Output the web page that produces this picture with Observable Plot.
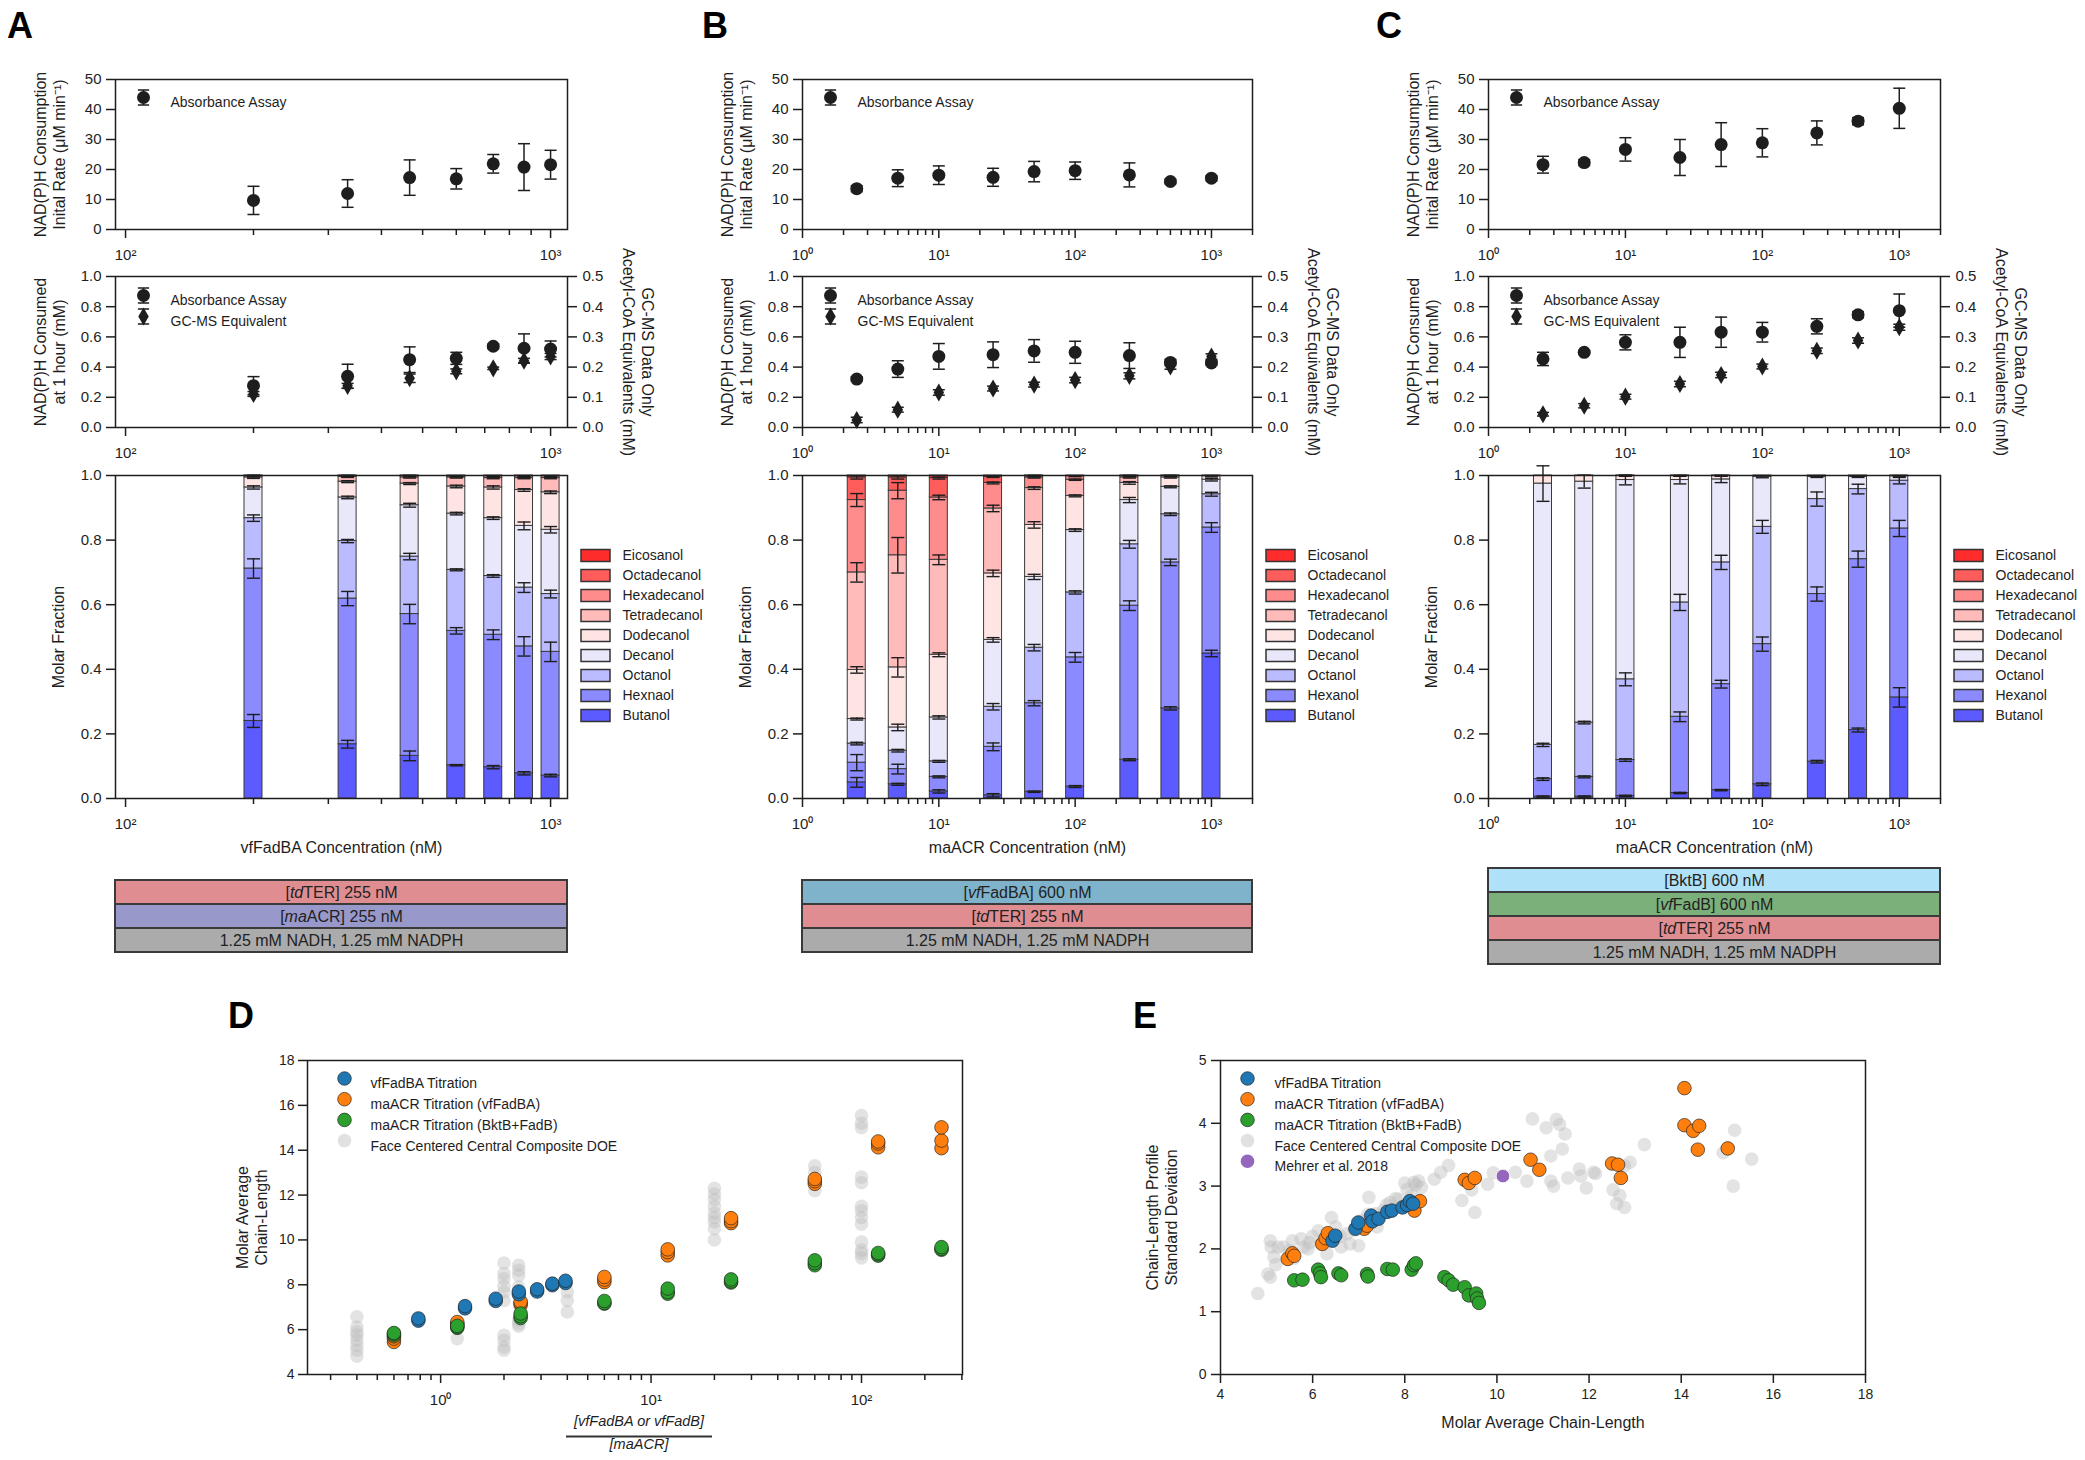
<!DOCTYPE html>
<html><head><meta charset="utf-8">
<script src="https://cdn.jsdelivr.net/npm/d3@7"></script>
<script src="https://cdn.jsdelivr.net/npm/@observablehq/plot@0.6"></script>
<style>
body{margin:0;background:#fff;font-family:"Liberation Sans",Arial,Helvetica,sans-serif;}
#fig{position:relative;width:2085px;height:1460px;overflow:hidden;background:#fff;}
#fig svg{position:absolute;overflow:visible;max-width:none;}
.plbl{position:absolute;font-weight:bold;font-size:36px;line-height:36px;color:#000;}
</style></head><body><div id="fig"></div>
<script>
// ================= DATA =================
const speciesNames = ["Butanol","Hexanol","Octanol","Decanol","Dodecanol","Tetradecanol","Hexadecanol","Octadecanol","Eicosanol"];
const speciesColors = ["#5b5bff","#8b8bff","#bbbbff","#e8e8fa","#ffe4e4","#ffbaba","#ff8c8c","#ff5c5c","#ff2c2c"];
const legendLabelsA = ["Butanol","Hexnaol","Octanol","Decanol","Dodecanol","Tetradecanol","Hexadecanol","Octadecanol","Eicosanol"];
const legendLabelsBC = ["Butanol","Hexanol","Octanol","Decanol","Dodecanol","Tetradecanol","Hexadecanol","Octadecanol","Eicosanol"];

const concA = [200, 333, 466, 600, 733, 866, 1000];
const concBC = [2.5, 5, 10, 25, 50, 100, 250, 500, 1000];

// initial rate (uM/min)
const rateA = [9.7, 12.0, 17.3, 16.9, 21.9, 20.8, 21.6];
const rateErrA = [4.7, 4.6, 5.9, 3.4, 3.1, 7.8, 4.8];
const rateB = [13.6, 17.1, 18.1, 17.4, 19.3, 19.6, 18.2, 16.0, 17.1];
const rateErrB = [1.0, 2.8, 3.1, 3.0, 3.4, 2.9, 4.0, 0.7, 0.8];
const rateC = [21.6, 22.3, 26.7, 24.0, 28.3, 28.9, 32.2, 36.1, 40.4];
const rateErrC = [2.8, 1.0, 3.9, 6.0, 7.3, 4.7, 4.0, 1.2, 6.7];

// NAD(P)H consumed at 1 h (mM) and GC-MS acetyl-CoA equivalents (mM, right axis)
const consA = [0.277, 0.339, 0.449, 0.458, 0.538, 0.525, 0.520];
const consErrA = [0.060, 0.080, 0.085, 0.040, 0.015, 0.095, 0.053];
const gcA = [0.111, 0.138, 0.163, 0.186, 0.196, 0.221, 0.235];
const gcErrA = [0.008, 0.008, 0.014, 0.008, 0.004, 0.008, 0.010];
const consB = [0.321, 0.387, 0.471, 0.482, 0.507, 0.498, 0.476, 0.431, 0.427];
const consErrB = [0.015, 0.055, 0.085, 0.085, 0.075, 0.073, 0.085, 0.020, 0.015];
const gcB = [0.025, 0.059, 0.116, 0.129, 0.142, 0.157, 0.171, 0.202, 0.235];
const gcErrB = [0.009, 0.008, 0.009, 0.008, 0.008, 0.009, 0.010, 0.009, 0.009];
const consC = [0.454, 0.498, 0.564, 0.564, 0.631, 0.631, 0.670, 0.746, 0.774];
const consErrC = [0.044, 0.010, 0.050, 0.100, 0.100, 0.065, 0.050, 0.020, 0.110];
const gcC = [0.044, 0.072, 0.102, 0.144, 0.174, 0.202, 0.254, 0.288, 0.332];
const gcErrC = [0.006, 0.007, 0.008, 0.009, 0.009, 0.008, 0.009, 0.009, 0.010];

// cumulative molar fraction tops (Butanol .. Octadecanol); Eicosanol fills to 1
const topsA = [
  [0.240,0.712,0.868,0.963,0.994,0.998,0.999,1.000],
  [0.168,0.619,0.797,0.932,0.981,0.996,0.999,1.000],
  [0.132,0.571,0.749,0.908,0.975,0.994,0.999,1.000],
  [0.103,0.519,0.708,0.882,0.966,0.994,0.998,1.000],
  [0.097,0.507,0.689,0.868,0.963,0.992,0.998,1.000],
  [0.078,0.471,0.653,0.844,0.955,0.992,0.998,1.000],
  [0.071,0.454,0.633,0.832,0.948,0.992,0.998,1.000]];
const errsA = [
  [0.020,0.030,0.010,0.005,0.003,0.002,0.001,0],
  [0.012,0.022,0.005,0.004,0.003,0.002,0.001,0],
  [0.015,0.030,0.010,0.006,0.003,0.002,0.001,0],
  [0.002,0.010,0.003,0.004,0.004,0.002,0.001,0],
  [0.005,0.015,0.004,0.004,0.005,0.002,0.001,0],
  [0.005,0.030,0.015,0.012,0.004,0.002,0.001,0],
  [0.004,0.030,0.012,0.010,0.004,0.002,0.001,0]];
const topsB = [
  [0.050,0.111,0.170,0.246,0.398,0.700,0.924,0.994],
  [0.044,0.091,0.148,0.220,0.406,0.753,0.953,0.994],
  [0.022,0.067,0.115,0.251,0.445,0.739,0.932,0.992],
  [0.010,0.160,0.284,0.491,0.697,0.898,0.977,0.996],
  [0.021,0.295,0.467,0.686,0.847,0.961,0.994,0.999],
  [0.037,0.437,0.638,0.831,0.937,0.987,0.998,1.000],
  [0.120,0.597,0.787,0.924,0.977,0.994,0.999,1.000],
  [0.279,0.731,0.880,0.965,0.994,0.999,1.000,1.000],
  [0.449,0.839,0.942,0.987,0.998,1.000,1.000,1.000]];
const errsB = [
  [0.015,0.025,0.004,0.003,0.010,0.030,0.020,0.005],
  [0.003,0.015,0.004,0.010,0.030,0.055,0.025,0.005],
  [0.005,0.003,0.003,0.005,0.006,0.015,0.007,0.003],
  [0.005,0.012,0.010,0.007,0.010,0.010,0.003,0.002],
  [0.002,0.008,0.010,0.008,0.010,0.004,0.002,0.001],
  [0.003,0.015,0.005,0.004,0.003,0.002,0.001,0],
  [0.003,0.015,0.012,0.008,0.004,0.002,0.001,0],
  [0.005,0.010,0.004,0.003,0.002,0.001,0,0],
  [0.010,0.015,0.006,0.004,0.002,0,0,0]];
const topsC = [
  [0.006,0.060,0.166,0.975,1.000,1.000,1.000,1.000],
  [0.006,0.067,0.235,0.981,1.000,1.000,1.000,1.000],
  [0.008,0.119,0.369,0.986,0.999,1.000,1.000,1.000],
  [0.017,0.253,0.607,0.986,0.999,1.000,1.000,1.000],
  [0.026,0.354,0.731,0.988,0.999,1.000,1.000,1.000],
  [0.044,0.478,0.841,0.996,1.000,1.000,1.000,1.000],
  [0.114,0.633,0.927,0.996,1.000,1.000,1.000,1.000],
  [0.212,0.741,0.958,0.996,1.000,1.000,1.000,1.000],
  [0.313,0.836,0.984,0.998,1.000,1.000,1.000,1.000]];
const errsC = [
  [0.002,0.004,0.005,0.055,0,0,0,0],
  [0.002,0.003,0.004,0.020,0,0,0,0],
  [0.002,0.004,0.020,0.015,0,0,0,0],
  [0.002,0.015,0.025,0.012,0,0,0,0],
  [0.002,0.012,0.022,0.010,0,0,0,0],
  [0.004,0.022,0.020,0.003,0,0,0,0],
  [0.004,0.022,0.022,0.002,0,0,0,0],
  [0.006,0.025,0.015,0.002,0,0,0,0],
  [0.030,0.025,0.010,0.002,0,0,0,0]];

// condition boxes
const boxesA = [{label:"[tdTER] 255 nM", color:"#e08d91"},{label:"[maACR] 255 nM", color:"#9898ca"},{label:"1.25 mM NADH, 1.25 mM NADPH", color:"#ababab"}];
const boxesB = [{label:"[vfFadBA] 600 nM", color:"#7fb3cb"},{label:"[tdTER] 255 nM", color:"#e08d91"},{label:"1.25 mM NADH, 1.25 mM NADPH", color:"#ababab"}];
const boxesC = [{label:"[BktB] 600 nM", color:"#afe1f8"},{label:"[vfFadB] 600 nM", color:"#7cb07b"},{label:"[tdTER] 255 nM", color:"#e08d91"},{label:"1.25 mM NADH, 1.25 mM NADPH", color:"#ababab"}];

// Panel D: ratio vs molar average chain length
const dBlueX = [0.784,0.784,1.306,1.306,1.827,1.827,2.353,2.353,2.875,2.875,3.396,3.396,3.922,3.922];
const dBlueY = [6.40,6.50,6.95,7.05,7.28,7.38,7.58,7.70,7.70,7.80,7.98,8.05,8.08,8.18];
const dTitrX = [0.6,1.2,2.4,6,12,24,60,120,240];
const dOrangeY = [[5.45,5.6,5.7],[6.2,6.27,6.34],[7.1,7.18,7.25],[8.12,8.23,8.35],[9.31,9.46,9.58],[10.75,10.84,10.97],[12.5,12.62,12.72],[14.13,14.3,14.39],[14.09,14.43,15.02]];
const dGreenY = [[5.75,5.82,5.85],[6.08,6.12,6.17],[6.52,6.6,6.72],[7.16,7.19,7.28],[7.6,7.68,7.83],[8.1,8.15,8.24],[8.87,8.97,9.09],[9.3,9.36,9.42],[9.56,9.6,9.68]];
const dGreyX = [0.4,1.2,2.0,2.35,4.0,20,60,100];
const dGreyY = [[4.82,5.08,5.3,5.53,5.75,5.9,6.12,6.57],[5.6,6.25],[5.08,5.23,5.53,5.75,7.3,7.68,7.93,8.27,8.5,8.97],[6.15,6.27,6.42,7.9,8.42,8.65,8.87],[6.79,7.3,7.68],[10.0,10.5,10.8,11.0,11.2,11.5,11.8,12.05,12.3],[12.2,12.6,13.0,13.3],[9.2,9.4,9.55,9.9,10.7,11.0,11.3,11.5,12.55,12.8,15.0,15.2,15.55]];

// Panel E: chain length vs standard deviation
const eBlueX = [6.43,6.49,6.93,6.99,7.27,7.30,7.43,7.62,7.72,7.95,8.05,8.11,8.18];
const eBlueY = [2.13,2.21,2.32,2.42,2.53,2.44,2.48,2.59,2.61,2.66,2.70,2.76,2.72];
const eOrangeX = [5.46,5.56,5.60,6.21,6.28,6.33,7.12,7.18,8.21,8.33,9.30,9.39,9.52,10.73,10.92,12.50,12.63,12.69,14.07,14.07,14.26,14.39,14.36,15.01];
const eOrangeY = [1.84,1.93,1.89,2.08,2.17,2.25,2.32,2.37,2.61,2.76,3.10,3.05,3.13,3.42,3.26,3.36,3.34,3.13,4.56,3.97,3.88,3.96,3.58,3.60];
const eGreenX = [5.60,5.78,6.12,6.16,6.18,6.56,6.62,7.18,7.20,7.62,7.74,8.15,8.20,8.24,8.86,8.95,9.05,9.30,9.39,9.55,9.57,9.61];
const eGreenY = [1.50,1.51,1.67,1.61,1.55,1.61,1.58,1.60,1.56,1.68,1.67,1.67,1.74,1.77,1.55,1.50,1.43,1.39,1.26,1.29,1.21,1.14];
const ePurpleX = [10.13];
const ePurpleY = [3.16];
const eGreyX = [4.81,5.03,5.08,5.1,5.08,5.16,5.25,5.37,5.5,5.56,5.75,5.81,5.93,6.12,6.18,6.31,6.41,6.62,6.74,6.81,7.05,7.22,7.37,7.53,7.68,7.87,8.0,8.24,8.3,8.36,8.64,8.78,8.95,9.24,9.45,9.52,9.8,9.92,10.4,10.65,10.77,11.07,11.17,11.17,11.23,11.29,11.36,11.42,11.48,11.54,11.79,11.82,11.94,12.1,12.14,12.52,12.6,12.67,12.77,12.77,12.89,13.2,14.91,15.13,15.16,15.53,
  5.2,5.6,5.9,6.0,6.3,6.5,6.6,6.9,7.0,7.2,7.4,7.6,7.8,8.05,8.15,8.2];
const eGreyY = [1.29,1.6,1.55,2.03,2.13,1.87,2.03,2.03,1.97,2.13,2.16,2.03,2.1,2.29,2.08,1.92,2.5,2.03,2.24,2.08,2.45,2.82,2.56,2.61,2.74,2.79,3.05,3.02,3.08,2.98,3.11,3.22,3.33,2.77,2.94,2.58,3.03,3.21,3.22,3.08,4.07,3.93,3.48,3.08,3.0,4.06,3.98,3.59,3.83,3.13,3.27,3.16,2.97,3.22,3.2,2.94,2.72,2.85,2.66,3.32,3.38,3.66,3.53,3.0,3.89,3.43,
  1.75,1.85,2.0,2.2,2.15,2.35,2.2,2.3,2.05,2.55,2.35,2.7,2.8,2.95,2.85,3.06];

const ticksRate = [0,10,20,30,40,50];
const ticksFrac = [0,0.2,0.4,0.6,0.8,1.0];
const gcToLeft = 2; // right axis 0-0.5 mM maps onto left 0-1 mM

// ================= HELPERS =================
const FONT = '"Liberation Sans", Arial, Helvetica, sans-serif';
const fig = document.getElementById("fig");
const INK = "#1e1e1e";
const sup = d => "10" + String(Math.round(Math.log10(d))).split("").map(c => "⁰¹²³⁴⁵⁶⁷⁸⁹"[+c]).join("");
const capSym = {draw(ctx, size){ const r = Math.sqrt(size/Math.PI); ctx.moveTo(-r,0); ctx.lineTo(r,0); }};
const errIconSym = {draw(ctx, size){ const r = Math.sqrt(size/Math.PI); ctx.moveTo(0,-r); ctx.lineTo(0,r); ctx.moveTo(-r*0.75,-r); ctx.lineTo(r*0.75,-r); ctx.moveTo(-r*0.75,r); ctx.lineTo(r*0.75,r); }};
const swatchSym = {draw(ctx){ ctx.rect(-14.5,-6,29,12); }};
const hlineSym = w => ({draw(ctx){ ctx.moveTo(-w/2,0); ctx.lineTo(w/2,0); }});

function place(node, left, top){ node.style.position = "absolute"; node.style.left = left + "px"; node.style.top = top + "px"; fig.appendChild(node); return node; }

function framePlot([L,T,R,B], o){
  const ml = o.ml ?? 100, mr = o.mr ?? 100, mt = o.mt ?? 10, mb = o.mb ?? 60;
  const svg = Plot.plot({
    width: R-L+ml+mr, height: B-T+mt+mb,
    marginLeft: ml, marginRight: mr, marginTop: mt, marginBottom: mb,
    style: {fontFamily: FONT, fontSize: "15px", color: INK, background: "transparent", overflow: "visible"},
    x: o.x, y: o.y, color: o.color, marks: o.marks
  });
  return place(svg, L-ml, T-mt);
}

function errorBars(rows, {x="x", lo, hi, cap=6, stroke=INK, sw=1.5}){
  return [
    Plot.ruleX(rows, {x, y1: lo, y2: hi, stroke, strokeWidth: sw}),
    Plot.dot(rows, {x, y: lo, symbol: capSym, r: cap, stroke, strokeWidth: sw, fill: "none"}),
    Plot.dot(rows, {x, y: hi, symbol: capSym, r: cap, stroke, strokeWidth: sw, fill: "none"})
  ];
}

function logAxisMarks(col){
  return [
    Plot.axisX({ticks: col.majors, tickSize: 9, tickPadding: 11, tickFormat: sup, fontSize: 15, strokeWidth: 1.5, label: null}),
    Plot.axisX({ticks: col.minors, tickSize: 6, tickFormat: () => "", strokeWidth: 1.5, label: null})
  ];
}

// rotated axis title centred on the frame side
const vTitle = (text, side, dx, fontSize=16) => Plot.text([text], {frameAnchor: side, rotate: side === "right" ? 90 : -90, dx, textAnchor: "middle", lineAnchor: "middle", fontSize, lineHeight: 1.15});

const colA = {L:115, R:567, domain:[94.7,1096], majors:[100,1000], minors:[200,300,400,500,600,700,800,900]};
const minorsBC = [2,3,4,5,6,7,8,9,20,30,40,50,60,70,80,90,200,300,400,500,600,700,800,900,2000];
const colB = {L:802, R:1252, domain:[1,2000], majors:[1,10,100,1000], minors:minorsBC};
const colC = {L:1488, R:1940, domain:[1,2000], majors:[1,10,100,1000], minors:minorsBC};
const ROW_TOP = [79,229], ROW_MID = [276,427], ROW_BAR = [475,798];

function legendRow(label, dy, symbol){
  return [
    Plot.dot([label], {frameAnchor:"top-left", dx:28, dy, r:7.5, symbol: errIconSym, stroke: INK, strokeWidth:1.5, fill:"none"}),
    Plot.dot([label], {frameAnchor:"top-left", dx:28, dy, r: symbol === "diamond" ? 5.5 : 6.5, symbol, fill: INK}),
    Plot.text([label], {frameAnchor:"top-left", dx:55, dy, textAnchor:"start", fontSize:14})
  ];
}

function topPlot(col, conc, rate, err){
  const rows = conc.map((c,i) => ({x:c, y:rate[i], e:err[i]}));
  framePlot([col.L, ROW_TOP[0], col.R, ROW_TOP[1]], {
    x: {type:"log", domain: col.domain, axis: null},
    y: {domain:[0,50], axis: null},
    marks: [
      Plot.frame({stroke: INK, strokeWidth: 1.5}),
      Plot.axisY({ticks: ticksRate, tickSize: 9, tickPadding: 5, tickFormat: d => String(d), fontSize: 15, strokeWidth: 1.5, label: null}),
      ...logAxisMarks(col),
      ...errorBars(rows, {lo: d => d.y - d.e, hi: d => d.y + d.e}),
      Plot.dot(rows, {x:"x", y:"y", r:6.5, fill: INK}),
      ...legendRow("Absorbance Assay", 18, "circle"),
      vTitle("NAD(P)H Consumption\nInital Rate (μM min⁻¹)", "left", -66)
    ]
  });
}

function midPlot(col, conc, cons, consErr, gc, gcErr){
  const abs = conc.map((c,i) => ({x:c, y:cons[i], e:consErr[i]}));
  const gcs = conc.map((c,i) => ({x:c, y:gc[i], e:gcErr[i]}));
  framePlot([col.L, ROW_MID[0], col.R, ROW_MID[1]], {
    x: {type:"log", domain: col.domain, axis: null},
    y: {domain:[0,1], axis: null},
    marks: [
      Plot.frame({stroke: INK, strokeWidth: 1.5}),
      Plot.axisY({ticks: ticksFrac, tickSize: 9, tickPadding: 5, tickFormat: d => d.toFixed(1), fontSize: 15, strokeWidth: 1.5, label: null}),
      Plot.axisY({anchor:"right", ticks: ticksFrac, tickSize: 9, tickPadding: 6, tickFormat: d => (d/gcToLeft).toFixed(1), fontSize: 15, strokeWidth: 1.5, label: null}),
      ...logAxisMarks(col),
      ...errorBars(gcs, {lo: d => (d.y - d.e)*gcToLeft, hi: d => (d.y + d.e)*gcToLeft}),
      Plot.dot(gcs, {x:"x", y: d => d.y*gcToLeft, r:5.5, symbol:"diamond", fill: INK}),
      ...errorBars(abs, {lo: d => d.y - d.e, hi: d => d.y + d.e}),
      Plot.dot(abs, {x:"x", y:"y", r:6.5, fill: INK}),
      ...legendRow("Absorbance Assay", 19, "circle"),
      ...legendRow("GC-MS Equivalent", 40, "diamond"),
      vTitle("NAD(P)H Consumed\nat 1 hour (mM)", "left", -66),
      vTitle("GC-MS Data Only\nAcetyl-CoA Equivalents (mM)", "right", 71)
    ]
  });
}

function barPlot(col, conc, tops, errs, legendLabels, title){
  const W = col.R - col.L;
  const decadePx = W / Math.log10(col.domain[1]/col.domain[0]);
  const f = Math.pow(10, 9 / decadePx);
  const segs = [], bounds = [];
  conc.forEach((c,i) => {
    speciesNames.forEach((sp,j) => {
      const y1 = j === 0 ? 0 : tops[i][j-1];
      const y2 = j < 8 ? tops[i][j] : 1;
      if (y2 - y1 > 0) segs.push({x:c, sp, y1, y2});
      if (j < 8 && tops[i][j] < 0.9995) bounds.push({x:c, y:tops[i][j], e: Math.max(errs[i][j], 0.0015)});
    });
  });
  framePlot([col.L, ROW_BAR[0], col.R, ROW_BAR[1]], {
    x: {type:"log", domain: col.domain, axis: null},
    y: {domain:[0,1], axis: null},
    color: {domain: speciesNames, range: speciesColors},
    marks: [
      Plot.rect(segs, {x1: d => d.x / f, x2: d => d.x * f, y1:"y1", y2:"y2", fill:"sp", stroke:"#3a3a3a", strokeWidth:1}),
      ...errorBars(bounds, {lo: d => d.y - d.e, hi: d => d.y + d.e, cap:6.5, sw:1.4}),
      Plot.frame({stroke: INK, strokeWidth: 1.5}),
      Plot.axisY({ticks: ticksFrac, tickSize: 9, tickPadding: 5, tickFormat: d => d.toFixed(1), fontSize: 15, strokeWidth: 1.5, label: null}),
      ...logAxisMarks(col),
      vTitle("Molar Fraction", "left", -57),
      Plot.text([title], {frameAnchor:"bottom", dy:54, fontSize:16, textAnchor:"middle"})
    ]
  });
  // legend (top = Eicosanol)
  const leg = speciesNames.map((sp,j) => ({sp, name: legendLabels[j]})).reverse();
  const lg = Plot.plot({
    width: 160, height: 184.5, margin: 0,
    style: {fontFamily: FONT, fontSize: "14px", color: INK, background: "transparent", overflow: "visible"},
    x: {axis: null}, y: {type:"band", domain: leg.map(d => d.name), axis: null, padding: 0},
    color: {domain: speciesNames, range: speciesColors},
    marks: [
      Plot.dot(leg, {y:"name", frameAnchor:"left", dx:15, symbol: swatchSym, fill:"sp", stroke:"#333", strokeWidth:1.5}),
      Plot.text(leg, {y:"name", text:"name", frameAnchor:"left", dx:42, textAnchor:"start", fontSize:14})
    ]
  });
  place(lg, col.R + 12.5, ROW_BAR[0] + 68);
}

function italicize(svg){
  svg.querySelectorAll("text").forEach(t => {
    const m = t.textContent.match(/^\[(td|ma|vf)(.*)$/);
    if (!m) return;
    t.textContent = "";
    const ns = "http://www.w3.org/2000/svg";
    const a = document.createElementNS(ns, "tspan"); a.textContent = "[";
    const b = document.createElementNS(ns, "tspan"); b.textContent = m[1]; b.setAttribute("font-style","italic");
    const c = document.createElementNS(ns, "tspan"); c.textContent = m[2];
    t.append(a, b, c);
  });
}

function boxPlot(rows, [L,T,R,B]){
  const svg = Plot.plot({
    width: R-L, height: B-T, margin: 0,
    style: {fontFamily: FONT, fontSize: "16px", color: "#222", background: "transparent", overflow: "visible"},
    x: {axis: null}, y: {type:"band", domain: rows.map(d => d.label), axis: null, padding: 0},
    color: {type: "identity"},
    marks: [
      Plot.cell(rows, {y:"label", fill:"color", stroke:"#3a3a3a", strokeWidth:2}),
      Plot.text(rows, {y:"label", text:"label", fontSize:16, fill:"#222"})
    ]
  });
  italicize(svg);
  place(svg, L, T);
}

// ================= PANELS A-C =================
topPlot(colA, concA, rateA, rateErrA);
topPlot(colB, concBC, rateB, rateErrB);
topPlot(colC, concBC, rateC, rateErrC);
midPlot(colA, concA, consA, consErrA, gcA, gcErrA);
midPlot(colB, concBC, consB, consErrB, gcB, gcErrB);
midPlot(colC, concBC, consC, consErrC, gcC, gcErrC);
barPlot(colA, concA, topsA, errsA, legendLabelsA, "vfFadBA Concentration (nM)");
barPlot(colB, concBC, topsB, errsB, legendLabelsBC, "maACR Concentration (nM)");
barPlot(colC, concBC, topsC, errsC, legendLabelsBC, "maACR Concentration (nM)");
boxPlot(boxesA, [115, 879, 567, 952]);
boxPlot(boxesB, [802, 879, 1252, 952]);
boxPlot(boxesC, [1488, 867, 1940, 964]);

// ================= PANEL D =================
const COLORS = {blue:"#1f77b4", orange:"#ff7f0e", green:"#2ca02c", grey:"#c4c4c4", purple:"#9467bd"};
{
  const grey = dGreyX.flatMap((x,i) => dGreyY[i].map(y => ({x,y})));
  const orange = dTitrX.flatMap((x,i) => dOrangeY[i].map(y => ({x,y})));
  const green = dTitrX.flatMap((x,i) => dGreenY[i].map(y => ({x,y})));
  const blue = dBlueX.map((x,i) => ({x, y:dBlueY[i]}));
  const legend = [["vfFadBA Titration", COLORS.blue],["maACR Titration (vfFadBA)", COLORS.orange],["maACR Titration (BktB+FadB)", COLORS.green],["Face Centered Central Composite DOE", COLORS.grey]];
  const dotStyle = c => ({r:6.8, fill:c, stroke:"#222", strokeWidth:0.9, strokeOpacity:0.75});
  framePlot([307, 1060, 962, 1374], {
    x: {type:"log", domain:[0.233, 302], axis:null},
    y: {domain:[4,18], axis:null},
    marks: [
      Plot.frame({stroke: INK, strokeWidth: 1.5}),
      Plot.axisY({ticks:[4,6,8,10,12,14,16,18], tickSize:9, tickPadding:4, tickFormat: d => String(d), fontSize:14, strokeWidth:1.5, label:null}),
      Plot.axisX({ticks:[1,10,100], tickSize:9, tickPadding:11, tickFormat: sup, fontSize:15, strokeWidth:1.5, label:null}),
      Plot.axisX({ticks:[0.3,0.4,0.5,0.6,0.7,0.8,0.9,2,3,4,5,6,7,8,9,20,30,40,50,60,70,80,90,200,300], tickSize:6, tickFormat:() => "", strokeWidth:1.5, label:null}),
      Plot.dot(grey, {x:"x", y:"y", r:6.8, fill:"#bdbdbd", fillOpacity:0.42}),
      Plot.dot(orange, {x:"x", y:"y", ...dotStyle(COLORS.orange)}),
      Plot.dot(green, {x:"x", y:"y", ...dotStyle(COLORS.green)}),
      Plot.dot(blue, {x:"x", y:"y", ...dotStyle(COLORS.blue)}),
      ...legend.flatMap(([name, c], k) => [
        Plot.dot([name], {frameAnchor:"top-left", dx:37, dy:18 + k*20.7, ...(k === 3 ? {r:6.8, fill:"#bdbdbd", fillOpacity:0.45} : dotStyle(c))}),
        Plot.text([name], {frameAnchor:"top-left", dx:63, dy:18 + k*20.7, textAnchor:"start", fontSize:14})
      ]),
      vTitle("Molar Average\nChain-Length", "left", -56),
      Plot.text(["[vfFadBA or vfFadB]"], {frameAnchor:"bottom", dx:4, dy:51, fontSize:14.5, fontStyle:"italic", textAnchor:"middle"}),
      Plot.dot(["fraction bar"], {frameAnchor:"bottom", dx:4, dy:62, symbol: hlineSym(146), r:5, stroke:"#333", strokeWidth:2, fill:"none"}),
      Plot.text(["[maACR]"], {frameAnchor:"bottom", dx:4, dy:74, fontSize:14.5, fontStyle:"italic", textAnchor:"middle"})
    ]
  });
}

// ================= PANEL E =================
{
  const zip = (xs, ys) => xs.map((x,i) => ({x, y:ys[i]}));
  const dotStyle = c => ({r:6.8, fill:c, stroke:"#222", strokeWidth:0.9, strokeOpacity:0.75});
  const legend = [["vfFadBA Titration", COLORS.blue],["maACR Titration (vfFadBA)", COLORS.orange],["maACR Titration (BktB+FadB)", COLORS.green],["Face Centered Central Composite DOE", COLORS.grey],["Mehrer et al. 2018", COLORS.purple]];
  framePlot([1220, 1060, 1865, 1374], {
    x: {domain:[4,18], axis:null},
    y: {domain:[0,5], axis:null},
    marks: [
      Plot.frame({stroke: INK, strokeWidth: 1.5}),
      Plot.axisY({ticks:[0,1,2,3,4,5], tickSize:9, tickPadding:5, tickFormat: d => String(d), fontSize:14, strokeWidth:1.5, label:null}),
      Plot.axisX({ticks:[4,6,8,10,12,14,16,18], tickSize:9, tickPadding:6, tickFormat: d => String(d), fontSize:14, strokeWidth:1.5, label:null}),
      Plot.dot(zip(eGreyX, eGreyY), {x:"x", y:"y", r:6.8, fill:"#bdbdbd", fillOpacity:0.42}),
      Plot.dot(zip(eGreenX, eGreenY), {x:"x", y:"y", ...dotStyle(COLORS.green)}),
      Plot.dot(zip(eOrangeX, eOrangeY), {x:"x", y:"y", ...dotStyle(COLORS.orange)}),
      Plot.dot(zip(eBlueX, eBlueY), {x:"x", y:"y", ...dotStyle(COLORS.blue)}),
      Plot.dot(zip(ePurpleX, ePurpleY), {x:"x", y:"y", r:6.8, fill:COLORS.purple, stroke:"#fff", strokeWidth:0.8}),
      ...legend.flatMap(([name, c], k) => [
        Plot.dot([name], {frameAnchor:"top-left", dx:27, dy:18 + k*20.7, ...(k === 3 ? {r:6.8, fill:"#bdbdbd", fillOpacity:0.45} : k === 4 ? {r:6.8, fill:c} : dotStyle(c))}),
        Plot.text([name], {frameAnchor:"top-left", dx:54, dy:18 + k*20.7, textAnchor:"start", fontSize:14})
      ]),
      vTitle("Chain-Length Profile\nStandard Deviation", "left", -59),
      Plot.text(["Molar Average Chain-Length"], {frameAnchor:"bottom", dy:53, fontSize:16, textAnchor:"middle"})
    ]
  });
}

// ================= PANEL LETTERS =================
[["A",7,8],["B",702,8],["C",1376,8],["D",228,998],["E",1133,998]].forEach(([t,x,y]) => {
  const d = document.createElement("div"); d.className = "plbl"; d.textContent = t; place(d, x, y);
});
</script></body></html>
